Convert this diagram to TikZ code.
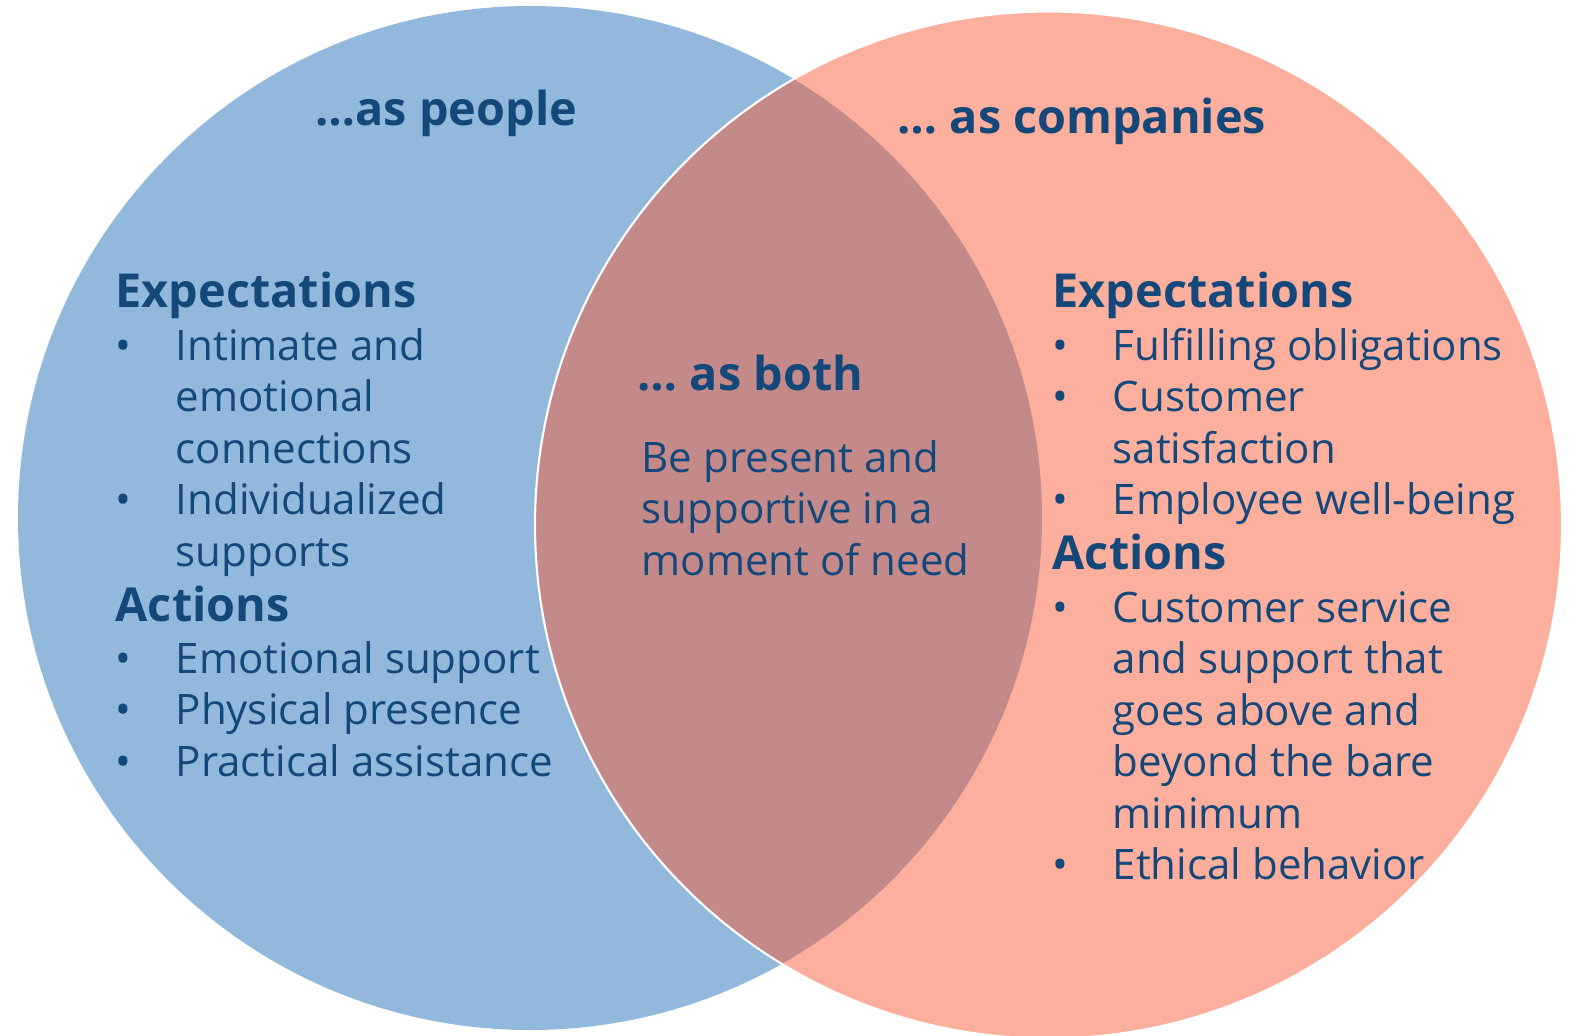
\documentclass[tikz,border=0pt]{standalone}
\usepackage{fontspec}
\setmainfont{Open Sans}
\usetikzlibrary{positioning}
\definecolor{peopleblue}{RGB}{146,184,220}
\definecolor{companysalmon}{RGB}{253,175,157}
\definecolor{bothrose}{RGB}{196,138,138}
\definecolor{textnavy}{RGB}{20,72,122}
\newcommand{\bul}{\makebox[0.6cm][l]{\textbullet}}
\newcommand{\ind}{\hspace*{0.6cm}}
% lines stacked from the first baseline down
\newcommand{\stack}[1]{\begin{tabular}[t]{@{}l@{}}#1\end{tabular}}
\tikzset{
    heading/.style={anchor=base west, inner sep=0pt, text=textnavy, font=\bfseries\fontsize{13.3}{16}\selectfont},
    body/.style={anchor=base west, inner sep=0pt, text=textnavy, font=\fontsize{11.95}{14.66}\selectfont},
}

\begin{document}
\begin{tikzpicture}[x=0.01cm, y=-0.01cm]
    \useasboundingbox (0,0) rectangle (1569,1036);

    % Circles
    \fill[peopleblue] (530,518) circle (512);
    \fill[companysalmon] (1048.5,525) circle (513.5);
    \begin{scope}
        \clip (530,518) circle (512);
        \fill[bothrose] (1048.5,525) circle (513.5);
    \end{scope}
    \draw[white, line width=0.6pt] (1048.5,525) circle (513.5);

    % People
    \node[heading] (people-title) at (315,125) {…as people};
    \node[heading] (people-exp) at (115,307) {Expectations};
    \node[body] (people-exp-list) at (115,360) {\stack{\bul Intimate and\\ \ind emotional\\ \ind connections\\ \bul Individualized\\ \ind supports}};
    \node[heading] (people-act) at (115,621) {Actions};
    \node[body] (people-act-list) at (115,673) {\stack{\bul Emotional support\\ \bul Physical presence\\ \bul Practical assistance}};

    % Both
    \node[heading] (both-title) at (637,390) {… as both};
    \node[body] (both-text) at (641,472) {\stack{Be present and\\ supportive in a\\ moment of need}};

    % Companies
    \node[heading] (company-title) at (897,133) {… as companies};
    \node[heading] (company-exp) at (1052,307) {Expectations};
    \node[body] (company-exp-list) at (1052,360) {\stack{\bul Fulfilling obligations\\ \bul Customer\\ \ind satisfaction\\ \bul Employee well-being}};
    \node[heading] (company-act) at (1052,569) {Actions};
    \node[body] (company-act-list) at (1052,622) {\stack{\bul Customer service\\ \ind and support that\\ \ind goes above and\\ \ind beyond the bare\\ \ind minimum\\ \bul Ethical behavior}};
\end{tikzpicture}
\end{document}
